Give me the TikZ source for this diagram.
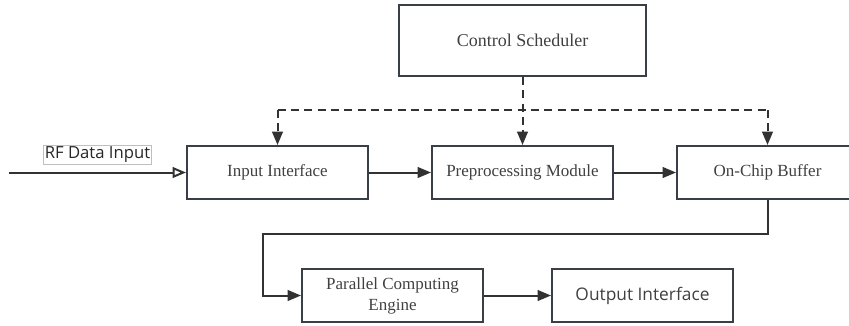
\documentclass[tikz,border=0pt]{standalone}
\usepackage{fontspec}
\setmainfont{Liberation Serif}
\newfontfamily\labelfont{Open Sans}
\usepackage{tikz}
\usetikzlibrary{arrows.meta, positioning, calc}
\definecolor{boxedge}{RGB}{58,62,70}
\definecolor{wire}{RGB}{50,50,50}

\begin{document}
\begin{tikzpicture}[x=0.75pt, y=-0.75pt,
            block/.style={rectangle, draw=boxedge, line width=1.5pt, minimum width=135.75pt, minimum height=39.75pt, align=center, font=\fontsize{12.75}{15.75}\selectfont, text=black!75},
            arrow/.style={-{Triangle[length=10pt, width=8pt]}, line width=1.5pt, draw=wire},
            ctrl/.style={arrow, dash pattern=on 6pt off 4pt},
            ctrlline/.style={line width=1.5pt, draw=wire, dash pattern=on 6pt off 4pt},
            tag/.style={rectangle, draw=black!25, line width=0.5pt, inner sep=1.2pt, font=\labelfont\fontsize{12.5}{14}\selectfont, text=black!85}
        ]
            \clip (0,0) rectangle (849,325);

% Control
            \node[block, minimum width=185.25pt, minimum height=53.25pt, font=\fontsize{13.5}{15}\selectfont] (sched) at (522.5,40.5) {Control Scheduler};

% Main data path
            \node[block] (inif) at (277.5,172.5) {Input Interface};
            \node[block] (prep) at (522.5,172.5) {Preprocessing Module};
            \node[block] (buf) at (767.5,172.5) {On-Chip Buffer};

% Compute and output
            \node[block] (par) at (392.5,295.5) {Parallel Computing\\Engine};
            \node[block, font=\labelfont\fontsize{13}{14}\selectfont] (outif) at (642.5,295.5) {Output Interface};

% Input signal
            \coordinate (src) at (9,172.5);
            \node[tag] (rf) at (97.5,155) {RF Data Input};
            \draw[line width=1.5pt, draw=wire, -{Triangle[open, length=10pt, width=8pt]}] (src) -- (inif);

% Control bus
            \coordinate (busl) at (277.5,110);
            \coordinate (busr) at (767.5,110);
            \draw[ctrlline] (busl) -- (busr);
            \draw[ctrl] (sched) -- (prep);
            \draw[ctrl] (busl) -- (inif);
            \draw[ctrl] (busr) -- (buf);

% Data connections
            \draw[arrow] (inif) -- (prep);
            \draw[arrow] (prep) -- (buf);
            \draw[arrow] (buf.south) -- ++(0,34) -| (263,260) |- (par.west);
            \draw[arrow] (par) -- (outif);

        \end{tikzpicture}
\end{document}
